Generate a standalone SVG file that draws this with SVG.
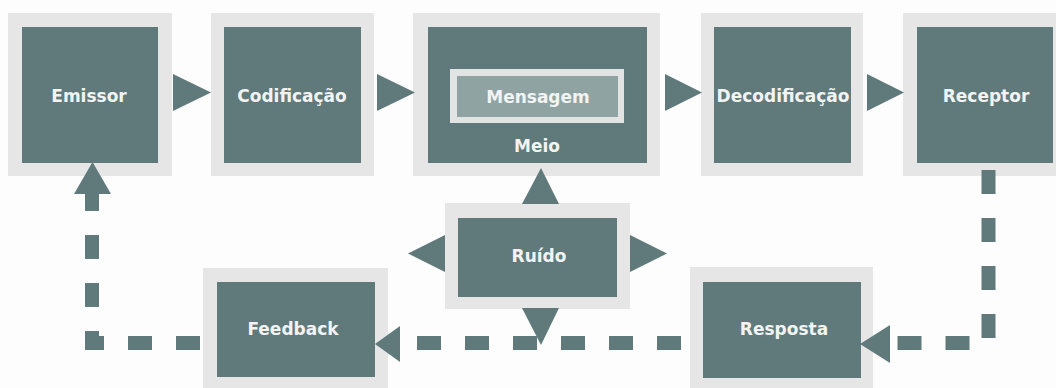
<svg xmlns="http://www.w3.org/2000/svg" width="1056" height="388" viewBox="0 0 1056 388">
<defs>
<style>
.bg{fill:#fdfdfd}
.frame{fill:#e6e6e6}
.box{fill:#607a7b}
.msgframe{fill:#e2e4e4}
.msg{fill:#8fa3a3}
.arrow{fill:#607a7b}
.dash{fill:none;stroke:#607a7b;stroke-width:14;stroke-dasharray:24 24;stroke-linejoin:miter}
.lbl{font-family:"DejaVu Sans","Liberation Sans",sans-serif;font-weight:bold;font-size:17px;fill:#f2f4f4;text-anchor:middle}
</style>
</defs>
<rect class="bg" x="0" y="0" width="1056" height="388"/>

<g id="emissor">
<rect class="frame" x="8" y="13" width="164" height="163"/>
<rect class="box" x="22" y="27" width="136" height="136"/>
<text class="lbl" x="89" y="102">Emissor</text>
</g>

<g id="codificacao">
<rect class="frame" x="211" y="13" width="163" height="163"/>
<rect class="box" x="224" y="27" width="137" height="136"/>
<text class="lbl" x="292" y="102">Codificação</text>
</g>

<g id="meio">
<rect class="frame" x="413" y="13" width="247" height="163"/>
<rect class="box" x="428" y="27" width="219" height="136"/>
<g id="mensagem">
<rect class="msgframe" x="450" y="69" width="174" height="54"/>
<rect class="msg" x="457" y="76" width="161" height="41"/>
<text class="lbl" x="538" y="103">Mensagem</text>
</g>
<text class="lbl" x="537" y="152">Meio</text>
</g>

<g id="decodificacao">
<rect class="frame" x="701" y="13" width="162" height="163"/>
<rect class="box" x="714" y="27" width="137" height="136"/>
<text class="lbl" x="783" y="102">Decodificação</text>
</g>

<g id="receptor">
<rect class="frame" x="903" y="13" width="163" height="163"/>
<rect class="box" x="917" y="27" width="136" height="136"/>
<text class="lbl" x="986" y="102">Receptor</text>
</g>

<g id="ruido">
<rect class="frame" x="445" y="203" width="185" height="106"/>
<rect class="box" x="458" y="218" width="159" height="79"/>
<text class="lbl" x="539" y="262">Ruído</text>
</g>

<g id="feedback">
<rect class="frame" x="203" y="268" width="185" height="124"/>
<rect class="box" x="217" y="282" width="158" height="95"/>
<text class="lbl" x="293" y="335">Feedback</text>
</g>

<g id="resposta">
<rect class="frame" x="690" y="267" width="183" height="125"/>
<rect class="box" x="703" y="282" width="158" height="96"/>
<text class="lbl" x="784" y="335">Resposta</text>
</g>

<g id="connectors">
<polygon class="arrow" points="173,74 211,92.5 173,111"/>
<polygon class="arrow" points="377,74 415,92.5 377,111"/>
<polygon class="arrow" points="665,74 702,92.5 665,111"/>
<polygon class="arrow" points="867,74 904,92.5 867,111"/>

<polygon class="arrow" points="522,204 559,204 541,168"/>
<polygon class="arrow" points="522,308 559,308 541,345"/>
<polygon class="arrow" points="445,235 445,272 408,253.5"/>
<polygon class="arrow" points="630,235 630,272 667,253.5"/>

<path class="dash" d="M988.5 170 V343 H897"/>
<polygon class="arrow" points="890,325 890,363 860,344"/>

<path class="dash" d="M681 343 H417"/>
<polygon class="arrow" points="400,326 400,362 375,344"/>

<path class="dash" d="M200 343 H92 V187"/>
<polygon class="arrow" points="74,194 111,194 92.5,162"/>
</g>
</svg>
